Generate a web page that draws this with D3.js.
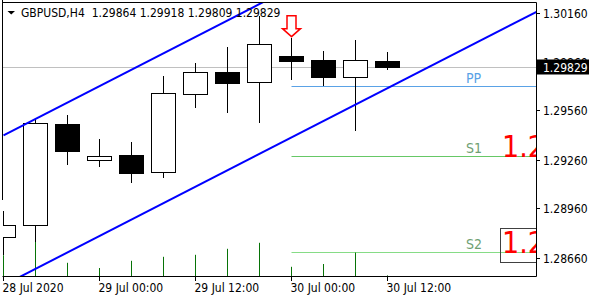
<html>
<head>
<script src="https://d3js.org/d3.v7.min.js"></script>
<style>
  body { margin: 0; background: #fff; }
  text { font-family: "DejaVu Sans Condensed", "DejaVu Sans", sans-serif; font-stretch: condensed; }
</style>
</head>
<body>
<svg id="chart" width="600" height="300"></svg>
<script>
// --- data ---
const symbol = "GBPUSD,H4";
const times = ["2020-07-28 12:00", "2020-07-28 16:00", "2020-07-28 20:00", "2020-07-29 00:00",
               "2020-07-29 04:00", "2020-07-29 08:00", "2020-07-29 12:00", "2020-07-29 16:00",
               "2020-07-29 20:00", "2020-07-30 00:00", "2020-07-30 04:00", "2020-07-30 08:00",
               "2020-07-30 12:00"];
const open   = [1.28787, 1.28857, 1.29477, 1.29259, 1.29288, 1.29182, 1.29663, 1.29796, 1.29733, 1.29896, 1.29869, 1.29763, 1.29864];
const high   = [1.28947, 1.29508, 1.29532, 1.29386, 1.29367, 1.29771, 1.29853, 1.29949, 1.30136, 1.30006, 1.29924, 1.29992, 1.29918];
const low    = [1.28675, 1.28757, 1.29228, 1.29216, 1.29118, 1.29149, 1.29577, 1.29547, 1.29485, 1.29747, 1.29710, 1.29436, 1.29809];
const close  = [1.28859, 1.29482, 1.29314, 1.29281, 1.29179, 1.29665, 1.29794, 1.29731, 1.29967, 1.29865, 1.29763, 1.29867, 1.29829];
const volume = [5200, 8500, 3300, 2000, 3800, 4800, 5300, 6800, 8300, 2300, 3000, 5850, 150];

const priceTicks = [1.28660, 1.28960, 1.29260, 1.29560, 1.29860, 1.30160];
const timeTicks  = ["2020-07-28 12:00", "2020-07-29 00:00", "2020-07-29 12:00", "2020-07-30 00:00", "2020-07-30 12:00"];
const timeLabels = ["28 Jul 2020", "29 Jul 00:00", "29 Jul 12:00", "30 Jul 00:00", "30 Jul 12:00"];

// channel anchors [time, price]
const upperChannel = [["2020-07-28 12:00", 1.29408], ["2020-07-31 08:00", 1.31117]];
const lowerChannel = [["2020-07-28 12:00", 1.28490], ["2020-07-31 08:00", 1.30199]];

// daily pivots
const pivotNames  = ["PP", "S1", "S2"];
const pivotValues = [1.29712, 1.29280, 1.28692];
const pivotStart  = "2020-07-30 00:00";
const arrowBar = 9;

// --- setup ---
const parse = d3.utcParse("%Y-%m-%d %H:%M");
const svg = d3.select("#chart");
const plotL = 3, plotR = 536, plotT = 3, plotB = 276;

const x = d3.scaleUtc()
  .domain([parse("2020-07-28 12:00"), parse("2020-07-30 12:00")])
  .range([3.5, 387.5]);
const y = d3.scaleLinear().domain([1.28660, 1.30160]).range([257.5, 12.5]);
const yVol = d3.scaleLinear().domain([0, 10000]).range([plotB, plotB - 40]);

const bars = times.map((t, i) => ({
  t: parse(t), o: open[i], h: high[i], l: low[i], c: close[i], v: volume[i]
}));
const last = bars[bars.length - 1];

svg.append("defs").append("clipPath").attr("id", "plot")
  .append("rect").attr("x", plotL).attr("y", plotT).attr("width", plotR - plotL).attr("height", plotB - plotT);

const plot = svg.append("g").attr("clip-path", "url(#plot)");

// current price line
plot.append("line")
  .attr("x1", plotL).attr("x2", plotR)
  .attr("y1", Math.round(y(last.c)) + 0.5).attr("y2", Math.round(y(last.c)) + 0.5)
  .attr("stroke", "#c0c0c0");

// pivot lines
const pivotColors = ["#5aa2e6", "#66c866", "#86dc86"];
const pivotText = ["#5aa2e6", "#6f9f72", "#6f9f72"];
pivotValues.forEach((v, i) => {
  const py = Math.round(y(v)) + 0.5;
  plot.append("line")
    .attr("x1", x(parse(pivotStart))).attr("x2", plotR)
    .attr("y1", py).attr("y2", py)
    .attr("stroke", pivotColors[i]);
  plot.append("text")
    .attr("x", 466).attr("y", py - 3.5)
    .attr("font-size", 14).attr("fill", pivotText[i])
    .text(pivotNames[i]);
});

// big red price texts for S1 and S2
[1, 2].forEach(i => {
  const py = y(pivotValues[i]);
  plot.append("text")
    .attr("x", 502).attr("y", py + 0.5)
    .attr("font-size", 30).attr("fill", "#ff0000")
    .text(pivotValues[i].toFixed(5));
});
plot.append("rect")
  .attr("x", 500.5).attr("y", Math.round(y(pivotValues[2])) - 23.5)
  .attr("width", 60).attr("height", 34)
  .attr("fill", "none").attr("stroke", "#404040");

// volumes
plot.selectAll(".vol").data(bars).enter().append("line")
  .attr("x1", d => x(d.t)).attr("x2", d => x(d.t))
  .attr("y1", plotB).attr("y2", d => yVol(d.v))
  .attr("stroke", "#077307");

// candles
const candle = plot.selectAll(".candle").data(bars).enter().append("g");
candle.append("line")
  .attr("x1", d => x(d.t)).attr("x2", d => x(d.t))
  .attr("y1", d => Math.round(y(d.h))).attr("y2", d => Math.round(y(d.l)))
  .attr("stroke", "#000");
candle.append("rect")
  .attr("x", d => x(d.t) - 12)
  .attr("width", 24)
  .attr("y", d => Math.round(y(Math.max(d.o, d.c))) + 0.5)
  .attr("height", d => Math.max(1, Math.round(y(Math.min(d.o, d.c))) - Math.round(y(Math.max(d.o, d.c)))))
  .attr("fill", d => d.c >= d.o ? "#fff" : "#000")
  .attr("stroke", "#000");

// channel lines
const chLine = d3.line().x(d => x(parse(d[0]))).y(d => y(d[1]));
[upperChannel, lowerChannel].forEach(ch => {
  plot.append("path").attr("d", chLine(ch))
    .attr("fill", "none").attr("stroke", "#0000ff").attr("stroke-width", 2);
});

// down arrow above bar
const ab = bars[arrowBar];
const ax = x(ab.t), ay = y(ab.h) - 1;
plot.append("path")
  .attr("d", `M${ax},${ay} L${ax - 9},${ay - 8} L${ax - 4.5},${ay - 8} L${ax - 4.5},${ay - 21} L${ax + 4.5},${ay - 21} L${ax + 4.5},${ay - 8} L${ax + 9},${ay - 8} Z`)
  .attr("fill", "#fff").attr("stroke", "#ff0000").attr("stroke-width", 1.5);

// frame
svg.append("path")
  .attr("d", `M2.5,0 V200 M2.5,2.5 H536.5 V${plotB + 0.5} H2.5`)
  .attr("fill", "none").attr("stroke", "#000");

// price axis
const pa = svg.append("g");
priceTicks.forEach(p => {
  const py = Math.round(y(p)) + 0.5;
  pa.append("line").attr("x1", 536).attr("x2", 540).attr("y1", py).attr("y2", py).attr("stroke", "#000");
  pa.append("text").attr("x", 543).attr("y", py + 4.5).attr("font-size", 12).attr("fill", "#000")
    .text(p.toFixed(5));
});
// current price label
const cy = Math.round(y(last.c));
pa.append("rect").attr("x", 537).attr("y", cy - 7.5).attr("width", 52).attr("height", 15).attr("fill", "#000");
pa.append("text").attr("x", 543).attr("y", cy + 4.5).attr("font-size", 12).attr("fill", "#fff")
  .text(last.c.toFixed(5));

// time axis
timeTicks.forEach((t, i) => {
  const tx = Math.round(x(parse(t)) - 0.5) + 0.5;
  svg.append("line").attr("x1", tx).attr("x2", tx).attr("y1", plotB).attr("y2", plotB + 5).attr("stroke", "#000");
  svg.append("text").attr("x", tx - 1).attr("y", 291.5).attr("font-size", 12).attr("fill", "#000")
    .text(timeLabels[i]);
});

// header
svg.append("path").attr("d", "M7.5,11 L15,11 L11.25,14.5 Z").attr("fill", "#000");
svg.append("text").attr("x", 21).attr("y", 16.5).attr("font-size", 12).attr("fill", "#000")
  .style("white-space", "pre")
  .text(`${symbol}  ${last.o.toFixed(5)} ${last.h.toFixed(5)} ${last.l.toFixed(5)} ${last.c.toFixed(5)}`);
</script>
</body>
</html>
